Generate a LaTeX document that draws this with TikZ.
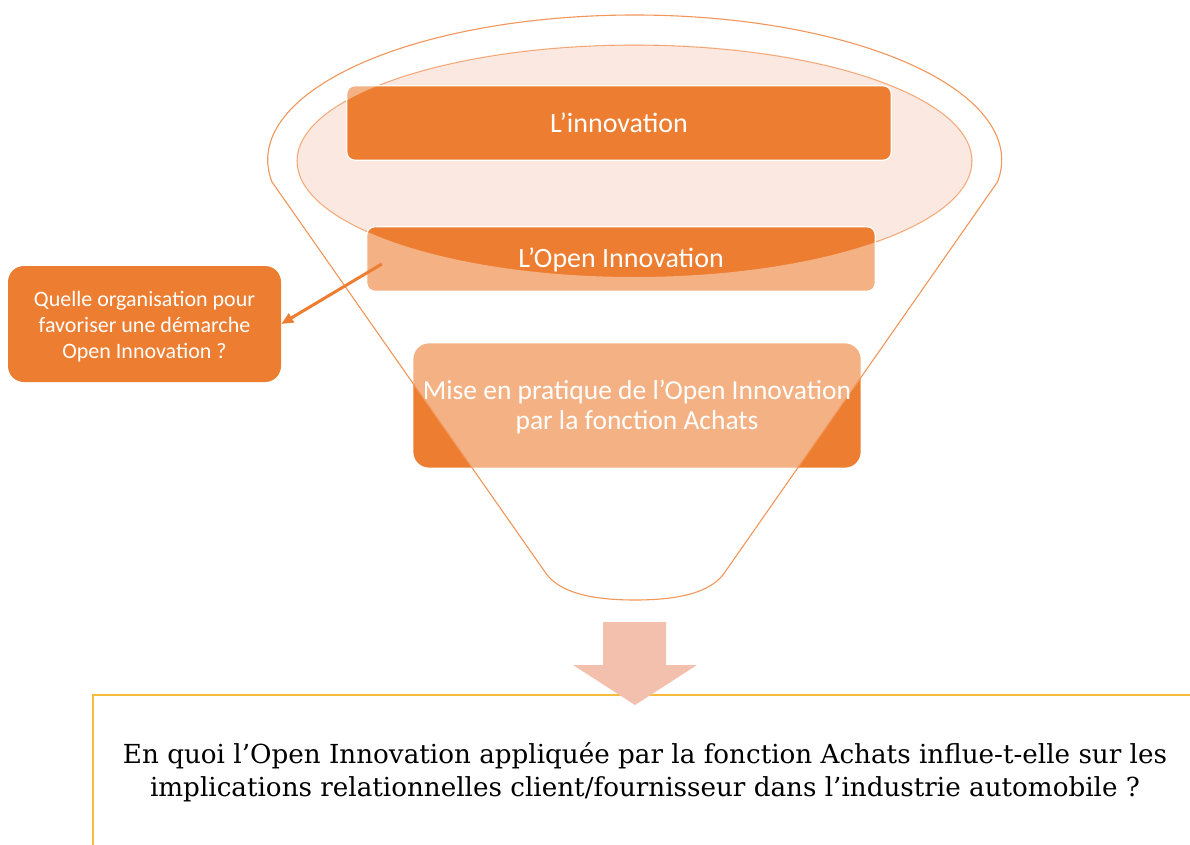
\documentclass[tikz,border=0pt]{standalone}
\usepackage{fontspec}
\setmainfont{Carlito}
\newfontfamily\qfont{DejaVu Serif}
\usetikzlibrary{arrows.meta,calc}
\definecolor{orng}{RGB}{237,125,49}
\definecolor{ellfill}{RGB}{251,233,225}
\definecolor{funline}{RGB}{242,150,90}
\definecolor{downarr}{RGB}{244,192,174}
\definecolor{qborder}{RGB}{247,188,60}
\pgfdeclarelayer{bg}
\pgfdeclarelayer{mid}
\pgfsetlayers{bg,mid,main}
\newcommand{\lowr}[2]{\raisebox{-#1}[\height][\depth]{\begin{tabular}{@{}c@{}}#2\end{tabular}}}
\tikzset{
  boxtext/.style={inner sep=0pt, text=white, align=center},
  boxfill/.style={fill=orng, draw=white, line width=1.2pt},
  funnelline/.style={draw=funline, line width=1.1pt},
}
\begin{document}
\begin{tikzpicture}[x=1pt,y=-1pt]
\useasboundingbox (0,0) rectangle (1190,845);
% text nodes (boxes)
\node[boxtext, minimum width=544pt, minimum height=74pt, font=\fontsize{28}{32}\selectfont] (b1) at (619,123) {L’innovation};
\node[boxtext, minimum width=508pt, minimum height=64pt, font=\fontsize{28}{32}\selectfont] (b2) at (621,259) {\lowr{2pt}{L’Open Innovation}};
\node[boxtext, minimum width=448pt, minimum height=125pt, font=\fontsize{27.5}{30}\selectfont] (b3) at (637,405.5) {\lowr{3pt}{Mise en pratique de l’Open Innovation\\par la fonction Achats}};
\node[boxtext, minimum width=273pt, minimum height=116pt, font=\fontsize{22}{26}\selectfont, fill=orng, rounded corners=16pt] (q) at (144.5,324) {\lowr{3pt}{Quelle organisation pour\\favoriser une démarche\\Open Innovation ?}};
% funnel background
\begin{pgfonlayer}{bg}
  \filldraw[fill=ellfill, draw=funline, line width=1.1pt] (634.5,161) ellipse [x radius=337.5, y radius=116];
  \path[boxfill, rounded corners=8pt] (b1.north west) rectangle (b1.south east);
  \path[boxfill, rounded corners=8pt] (b2.north west) rectangle (b2.south east);
  \path[boxfill, rounded corners=16pt] (b3.north west) rectangle (b3.south east);
\end{pgfonlayer}
\begin{pgfonlayer}{mid}
  \fill[white, fill opacity=0.4, even odd rule]
    (272,182) arc[start angle=171.27, end angle=368.73, x radius=367, y radius=145]
    -- (725,572) .. controls (712,592) and (680,600) .. (635,600)
    .. controls (590,600) and (558,592) .. (545,572) -- cycle
    (634.5,161) ellipse [x radius=337.5, y radius=116];
  \draw[funnelline]
    (272,182) arc[start angle=171.27, end angle=368.73, x radius=367, y radius=145]
    -- (725,572) .. controls (712,592) and (680,600) .. (635,600)
    .. controls (590,600) and (558,592) .. (545,572) -- cycle;
\end{pgfonlayer}
% connector
\coordinate (s) at ($(b2.west)+(15,5)$);
\draw[orng, line width=3pt, -{Triangle[length=12pt,width=10pt]}] (s) -- (q.east);
% bottom question box
\coordinate (qtl) at (93,695);
\coordinate (qtr) at (1190,695);
\coordinate (qbl) at (93,845);
\draw[qborder, line width=1.2pt] (qtr) -- (qtl) -- (qbl);
\node[inner sep=0pt, align=center, font=\qfont\fontsize{26.2}{33}\selectfont] (qt) at (645,772) {En quoi l’Open Innovation appliquée par la fonction Achats influe-t-elle sur les\\implications relationnelles client/fournisseur dans l’industrie automobile ?};
% down arrow
\fill[downarr] (603,622) -- (666,622) -- (666,665) -- (697,665) -- (635,705) -- (573,665) -- (603,665) -- cycle;
\end{tikzpicture}
\end{document}
